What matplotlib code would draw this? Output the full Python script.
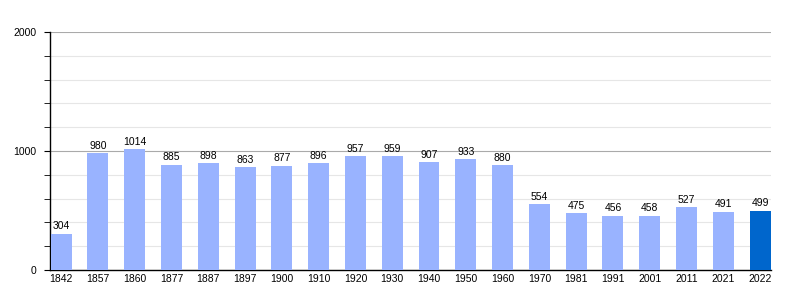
import matplotlib
matplotlib.use("Agg")
import matplotlib.pyplot as plt
from matplotlib.ticker import MultipleLocator

years = ["1842", "1857", "1860", "1877", "1887", "1897", "1900", "1910", "1920", "1930",
         "1940", "1950", "1960", "1970", "1981", "1991", "2001", "2011", "2021", "2022"]
population = [304, 980, 1014, 885, 898, 863, 877, 896, 957, 959,
              907, 933, 880, 554, 475, 456, 458, 527, 491, 499]

plt.rcParams['font.family'] = ['Liberation Sans', 'DejaVu Sans']

fig = plt.figure(figsize=(8, 3), dpi=100)
ax = fig.add_axes([0.0625, 0.1, 0.9015, 0.7933])

x = list(range(len(years)))
colors = ['#99b3ff'] * (len(years) - 1) + ['#0066cc']
ax.bar(x, population, width=0.57, color=colors, zorder=3)
for xi, v in zip(x, population):
    ax.text(xi, v + 20, str(v), ha='center', va='bottom', fontsize=7.5, zorder=4)

ax.set_xlim(-0.3, 19.3)
ax.set_ylim(0, 2000)
ax.yaxis.set_major_locator(MultipleLocator(1000))
ax.yaxis.set_minor_locator(MultipleLocator(200))
ax.grid(which='major', axis='y', color='#aaaaaa', linewidth=0.8, zorder=1)
ax.grid(which='minor', axis='y', color='#e6e6e6', linewidth=0.8, zorder=1)
ax.set_xticks(x)
ax.set_xticklabels(years)
ax.tick_params(axis='x', length=0, labelsize=7.5, pad=3)
ax.tick_params(axis='y', which='major', length=4.3, labelsize=7.5, pad=5.5)
ax.tick_params(axis='y', which='minor', length=4.3)
for s in ['top', 'right']:
    ax.spines[s].set_visible(False)
ax.spines['left'].set_linewidth(1)
ax.spines['bottom'].set_linewidth(1)

fig.savefig("out.png", dpi=100)
